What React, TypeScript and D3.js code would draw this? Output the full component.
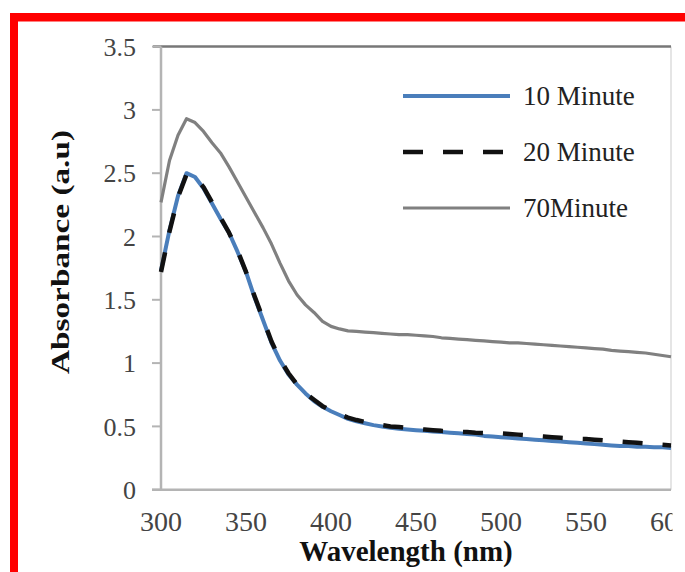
import React from "react";
import * as d3 from "d3";

const wavelengths = [300,305,310,315,320,325,330,335,340,345,350,355,360,365,370,375,380,385,390,395,400,405,410,415,420,425,430,435,440,445,450,455,460,465,470,475,480,485,490,495,500,505,510,515,520,525,530,535,540,545,550,555,560,565,570,575,580,585,590,595,600];

const min10 = [1.73,2.05,2.32,2.50,2.47,2.38,2.26,2.14,2.03,1.88,1.72,1.52,1.34,1.16,1.02,0.91,0.83,0.76,0.70,0.655,0.62,0.59,0.56,0.54,0.525,0.51,0.50,0.49,0.482,0.476,0.47,0.465,0.46,0.455,0.45,0.445,0.44,0.435,0.425,0.42,0.415,0.41,0.405,0.40,0.395,0.39,0.385,0.38,0.375,0.37,0.365,0.36,0.355,0.35,0.345,0.345,0.34,0.34,0.335,0.335,0.33];

const min20 = [1.72,2.04,2.31,2.49,2.47,2.39,2.27,2.15,2.03,1.89,1.72,1.53,1.35,1.17,1.03,0.92,0.83,0.76,0.71,0.66,0.625,0.595,0.57,0.55,0.535,0.52,0.51,0.50,0.495,0.488,0.48,0.475,0.47,0.465,0.462,0.458,0.455,0.45,0.448,0.446,0.445,0.44,0.435,0.43,0.425,0.42,0.415,0.41,0.405,0.402,0.40,0.395,0.39,0.385,0.38,0.375,0.37,0.365,0.36,0.355,0.35];

const min70 = [2.27,2.60,2.80,2.93,2.90,2.83,2.74,2.66,2.55,2.43,2.31,2.19,2.07,1.94,1.79,1.65,1.54,1.46,1.40,1.33,1.29,1.27,1.255,1.25,1.245,1.24,1.235,1.23,1.225,1.225,1.22,1.215,1.21,1.20,1.195,1.19,1.185,1.18,1.175,1.17,1.165,1.16,1.16,1.155,1.15,1.145,1.14,1.135,1.13,1.125,1.12,1.115,1.11,1.10,1.095,1.09,1.085,1.08,1.07,1.06,1.05];

const xTicks = [300,350,400,450,500,550,600];
const yTicks = [0,0.5,1,1.5,2,2.5,3,3.5];
const legendLabels = ["10 Minute","20 Minute","70Minute"];

const serif = "Liberation Serif, Tinos, DejaVu Serif, Times New Roman, serif";

export default function App() {
  const x = d3.scaleLinear().domain([300, 600]).range([161, 671]);
  const y = d3.scaleLinear().domain([0, 3.5]).range([489.7, 46.6]);
  const line = (vals: number[]) =>
    d3.line<number>().x((_, i) => x(wavelengths[i])).y((v) => y(v))(vals) || "";

  const series = [
    { vals: min10, stroke: "#4a7ebb", width: 4, dash: undefined as string | undefined },
    { vals: min20, stroke: "#111111", width: 4.5, dash: "20 20" },
    { vals: min70, stroke: "#808080", width: 3.2, dash: undefined as string | undefined },
  ];
  const legendY = [96, 152, 208];
  const ts = { fontFamily: serif };

  return (
    <svg width={685} height={572} style={{ position: "absolute", left: 0, top: 0, background: "#fff" }}>
      <rect x={0} y={0} width={685} height={572} fill="#fff" />
      {/* red frame */}
      <rect x={10} y={13} width={675} height={8.5} fill="#ff0000" />
      <rect x={10} y={13} width={8} height={559} fill="#ff0000" />

      {/* plot frame */}
      <line x1={x(600)} x2={x(600)} y1={y(3.5)} y2={y(0)} stroke="#dcdcdc" strokeWidth={1.5} />
      <line x1={153} x2={x(600)} y1={y(3.5)} y2={y(3.5)} stroke="#777" strokeWidth={2.5} />
      <line x1={x(300)} x2={x(300)} y1={y(3.5)} y2={y(0)} stroke="#b4b4b4" strokeWidth={2.5} />
      <line x1={152} x2={x(600)} y1={y(0)} y2={y(0)} stroke="#b4b4b4" strokeWidth={2.5} />
      {yTicks.map((t) => (
        <g key={t}>
          <line x1={152} x2={x(300)} y1={y(t)} y2={y(t)} stroke="#b4b4b4" strokeWidth={2} />
          <text x={136} y={y(t)} dy="0.35em" textAnchor="end" fontSize={26} fill="#444" style={ts}>{t}</text>
        </g>
      ))}
      {xTicks.map((t) => (
        <text key={t} x={x(t)} y={531} textAnchor="middle" fontSize={28} fill="#444" style={ts}>{t}</text>
      ))}

      {/* series */}
      {series.map((s, i) => (
        <path key={i} d={line(s.vals)} fill="none" stroke={s.stroke} strokeWidth={s.width}
          strokeDasharray={s.dash} strokeLinejoin="round" />
      ))}

      {/* legend */}
      {series.map((s, i) => (
        <g key={"l" + i}>
          <line x1={403} x2={510} y1={legendY[i]} y2={legendY[i]} stroke={s.stroke}
            strokeWidth={s.width} strokeDasharray={s.dash} />
          <text x={523} y={legendY[i] + 9} fontSize={27} fill="#222" style={ts}>{legendLabels[i]}</text>
        </g>
      ))}

      {/* axis titles */}
      <text x={406} y={561} textAnchor="middle" fontSize={29} fontWeight="bold" fill="#111" style={ts}>Wavelength (nm)</text>
      <text transform="translate(60,252) scale(1,1.28) rotate(-90)" textAnchor="middle" dy="0.35em"
        fontSize={26} fontWeight="bold" fill="#111" style={ts}>Absorbance (a.u)</text>

      {/* clip right of plot */}
      <rect x={672.5} y={22} width={13} height={550} fill="#fff" />
    </svg>
  );
}
